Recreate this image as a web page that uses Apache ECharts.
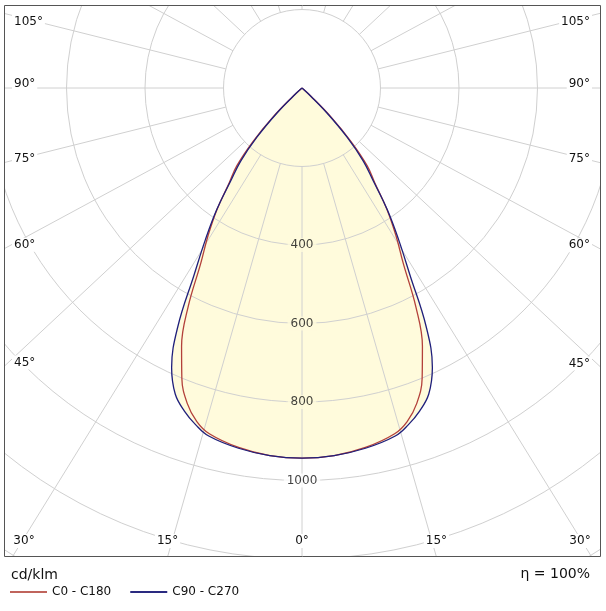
<html lang="en">
<head>
    <meta charset="UTF-8">
    <title>LDC</title>
    <script src="https://cdn.jsdelivr.net/npm/echarts@6/dist/echarts.min.js"></script>
    <style type="text/css">
        html, body { margin: 0; padding: 0; background: #fff; }
        #main { width: 606px; height: 611px; }
    </style>
</head>
<body>
    <div id="main"></div>
    <script type="text/javascript">
        // gamma angles (0 = straight down) and intensities in cd/klm
        var ANGLES   = [0, 5, 10, 15, 17.5, 20, 22.5, 25, 27.5, 30, 32.5, 35, 37.5, 40, 42.5, 45, 47.5, 50];
        var C0_C180  = [943, 940, 930, 912, 891, 855, 800, 726, 628, 516, 445, 377, 305, 258, 185, 105, 30, 0];
        var C90_C270 = [943, 940, 932, 918, 900, 876, 844, 786, 685, 550, 458, 379, 298, 243, 170, 90, 20, 0];

        var GRID_ANGLES = [0, 15, 30, 45, 60, 75, 90, 105, 120, 135, 150, 165, 180];
        var RING_LABELS = [400, 600, 800, 1000];
        var SERIES_NAMES = ['C0 - C180', 'C90 - C270'];

        var CX = 302, CY = 88;             // light source
        var PX_PER_CD = 78.5 / 200;
        var R_MAX = 1600;
        var BOX = { left: 4, top: 5, right: 601, bottom: 557 };
        var K = 1.07;                      // the reference's radial grid lines are slightly spread sideways
        var FILL = '#fffbdc';
        var GRID = '#d0d0d0';
        var INK = '#111';
        var FONT = 'DejaVu Sans';

        function rad(d) { return d * Math.PI / 180; }
        function gridAngle(t) {
            return Math.atan2(K * Math.sin(rad(t)), Math.cos(rad(t))) * 180 / Math.PI;
        }

        // polar data: negative angles on the right half, positive on the left
        function curve(vals) {
            var d = [];
            for (var i = ANGLES.length - 1; i >= 0; i--) d.push([vals[i], -ANGLES[i]]);
            for (var j = 1; j < ANGLES.length; j++) d.push([vals[j], ANGLES[j]]);
            return d;
        }

        var series = [];

        // yellow body under the grid
        series.push({
            type: 'line', coordinateSystem: 'polar', data: curve(C90_C270),
            symbol: 'none', smooth: 0.4, silent: true, z: 1,
            lineStyle: { width: 0 }, areaStyle: { color: FILL, opacity: 1 }
        });

        // radial grid lines, starting at the 200 ring
        GRID_ANGLES.forEach(function (t) {
            var g = gridAngle(t);
            var list = (t > 0 && t < 180) ? [g, -g] : [g];
            list.forEach(function (a) {
                series.push({
                    type: 'line', coordinateSystem: 'polar',
                    data: [[200, a], [R_MAX, a]],
                    symbol: 'none', silent: true, z: 2,
                    lineStyle: { color: GRID, width: 1 }
                });
            });
        });

        // ring values along 0°
        series.push({
            type: 'scatter', coordinateSystem: 'polar', silent: true, z: 4,
            symbolSize: 1, itemStyle: { color: 'rgba(0,0,0,0)' },
            data: RING_LABELS.map(function (v) {
                return { value: [v, 0], label: { backgroundColor: v < C90_C270[0] ? FILL : '#fff' } };
            }),
            label: {
                show: true, position: 'inside', color: INK, fontSize: 12, fontFamily: FONT,
                padding: [1, 3],
                formatter: function (p) { return String(p.value[0]); }
            }
        });

        series.push({
            name: SERIES_NAMES[0], type: 'line', coordinateSystem: 'polar', data: curve(C0_C180),
            symbol: 'none', smooth: 0.4, z: 5,
            lineStyle: { color: '#b3403a', width: 1.3 }, itemStyle: { color: '#c0645c' }
        });
        series.push({
            name: SERIES_NAMES[1], type: 'line', coordinateSystem: 'polar', data: curve(C90_C270),
            symbol: 'none', smooth: 0.4, z: 6,
            lineStyle: { color: '#1f1f7c', width: 1.3 }, itemStyle: { color: '#2a2a80' }
        });

        // white frame outside the plot box, box border, angle labels, units
        var graphics = [
            { type: 'rect', z: 50, silent: true, shape: { x: 0, y: 0, width: 606, height: BOX.top }, style: { fill: '#fff' } },
            { type: 'rect', z: 50, silent: true, shape: { x: 0, y: BOX.bottom, width: 606, height: 611 - BOX.bottom }, style: { fill: '#fff' } },
            { type: 'rect', z: 50, silent: true, shape: { x: 0, y: 0, width: BOX.left, height: 611 }, style: { fill: '#fff' } },
            { type: 'rect', z: 50, silent: true, shape: { x: BOX.right, y: 0, width: 606 - BOX.right, height: 611 }, style: { fill: '#fff' } },
            { type: 'rect', z: 51, silent: true,
              shape: { x: BOX.left + 0.5, y: BOX.top + 0.5, width: BOX.right - BOX.left - 1, height: BOX.bottom - BOX.top - 1 },
              style: { fill: 'none', stroke: '#555', lineWidth: 1 } }
        ];

        function angleLabel(text, x, y, align) {
            graphics.push({
                type: 'text', z: 52, silent: true,
                style: {
                    text: text, x: x, y: y, fill: INK, font: '12px "' + FONT + '"',
                    align: align, textAlign: align, verticalAlign: 'middle', textVerticalAlign: 'middle',
                    backgroundColor: '#fff', padding: [1, 2]
                }
            });
        }

        GRID_ANGLES.forEach(function (t) {
            var sides = (t > 0 && t < 180) ? [-1, 1] : [1];
            sides.forEach(function (s) {
                var dx = s * K * Math.sin(rad(t)), dy = Math.cos(rad(t));
                var hits = [];
                if (dx < -1e-9) hits.push(['left', (BOX.left - CX) / dx]);
                if (dx > 1e-9) hits.push(['right', (BOX.right - CX) / dx]);
                if (dy > 1e-9) hits.push(['bottom', (BOX.bottom - CY) / dy]);
                if (dy < -1e-9) hits.push(['top', (BOX.top - CY) / dy]);
                hits.sort(function (a, b) { return a[1] - b[1]; });
                var edge = hits[0][0], u = hits[0][1];
                var ex = CX + u * dx, ey = CY + u * dy;
                var txt = t + '°';
                if (edge === 'bottom') {
                    angleLabel(txt, Math.min(Math.max(ex, 24), 580), 541, 'center');
                } else if (edge === 'left') {
                    angleLabel(txt, 12, Math.max(ey - 4, 22), 'left');
                } else if (edge === 'right') {
                    angleLabel(txt, 592, Math.max(ey - 4, 22), 'right');
                }
            });
        });

        graphics.push({
            type: 'text', z: 52, silent: true,
            style: { text: 'cd/klm', x: 11, y: 575, fill: INK, font: '14px "' + FONT + '"',
                     align: 'left', textAlign: 'left', verticalAlign: 'middle', textVerticalAlign: 'middle' }
        });
        graphics.push({
            type: 'text', z: 52, silent: true,
            style: { text: 'η = 100%', x: 590, y: 574, fill: INK, font: '14px "' + FONT + '"',
                     align: 'right', textAlign: 'right', verticalAlign: 'middle', textVerticalAlign: 'middle' }
        });

        var chart = echarts.init(document.getElementById('main'));
        chart.setOption({
            animation: false,
            backgroundColor: '#fff',
            polar: { center: [CX, CY], radius: R_MAX * PX_PER_CD },
            angleAxis: {
                type: 'value', min: -180, max: 180, startAngle: 90, clockwise: true, z: 2,
                axisLine: { show: false }, axisTick: { show: false }, axisLabel: { show: false },
                splitLine: { show: false }
            },
            radiusAxis: {
                type: 'value', min: 0, max: R_MAX, interval: 200, z: 3,
                axisLine: { show: false }, axisTick: { show: false }, axisLabel: { show: false },
                splitLine: { show: true, lineStyle: { color: GRID, width: 1 } }
            },
            legend: {
                data: SERIES_NAMES, left: 5, top: 581, z: 60,
                icon: 'rect', itemWidth: 37, itemHeight: 2, itemGap: 19,
                textStyle: { fontSize: 12, fontFamily: FONT, color: INK }
            },
            graphic: { elements: graphics },
            series: series
        });
    </script>
</body>
</html>
